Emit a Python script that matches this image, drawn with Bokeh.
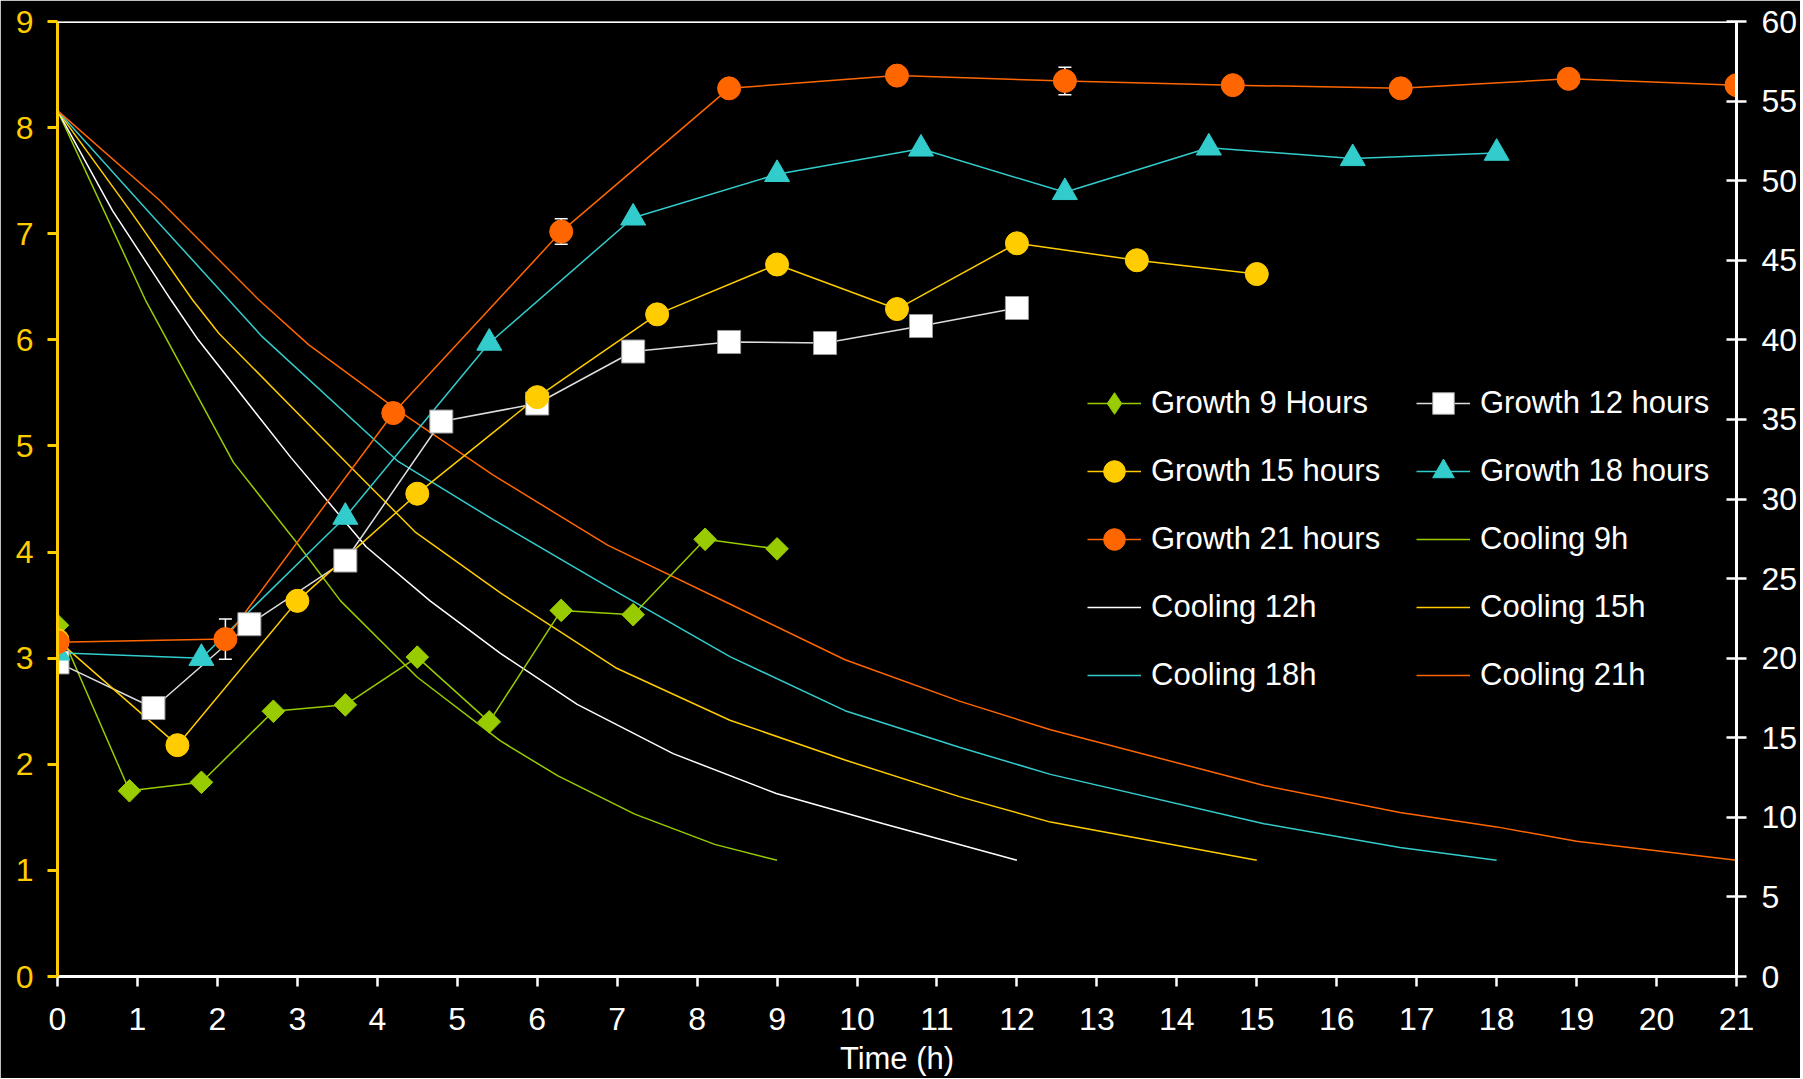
import numpy as np
from bokeh.plotting import figure
from bokeh.models import (ColumnDataSource, Range1d, LinearAxis, Legend, LegendItem,
                          Whisker, TeeHead, Span)
from bokeh.embed import file_html
from bokeh.resources import INLINE

# ---------------- data ----------------
hour_ticks = list(range(0, 22))
left_ticks = list(range(0, 10))
right_ticks = list(range(0, 61, 5))

# Growth (left axis)
g9_t = [0, 0.9, 1.8, 2.7, 3.6, 4.5, 5.4, 6.3, 7.2, 8.1, 9.0]
g9_v = [3.31, 1.75, 1.83, 2.50, 2.56, 3.01, 2.40, 3.45, 3.41, 4.12, 4.03]
g12_t = [0, 1.2, 2.4, 3.6, 4.8, 6.0, 7.2, 8.4, 9.6, 10.8, 12.0]
g12_v = [2.96, 2.53, 3.32, 3.92, 5.23, 5.40, 5.89, 5.98, 5.97, 6.13, 6.30]
g15_t = [0, 1.5, 3.0, 4.5, 6.0, 7.5, 9.0, 10.5, 12.0, 13.5, 15.0]
g15_v = [3.17, 2.18, 3.54, 4.55, 5.46, 6.24, 6.71, 6.29, 6.91, 6.75, 6.62]
g18_t = [0, 1.8, 3.6, 5.4, 7.2, 9.0, 10.8, 12.6, 14.4, 16.2, 18.0]
g18_v = [3.05, 3.00, 4.33, 5.97, 7.15, 7.56, 7.80, 7.39, 7.81, 7.71, 7.76]
g21_t = [0, 2.1, 4.2, 6.3, 8.4, 10.5, 12.6, 14.7, 16.8, 18.9, 21.0]
g21_v = [3.15, 3.18, 5.31, 7.02, 8.37, 8.49, 8.44, 8.40, 8.37, 8.46, 8.40]
g21_err = [0, 0.19, 0, 0.12, 0, 0, 0.13, 0, 0, 0, 0]

# Cooling (right axis, temperature)
c9_t = [0, 1.1, 2.2, 3.0, 3.54, 4.5, 5.54, 6.26, 7.22, 8.22, 9.0]
c9_v = [54.4, 42.5, 32.3, 27.2, 23.6, 18.8, 14.8, 12.6, 10.2, 8.3, 7.3]
c12_t = [0, 0.69, 1.42, 1.76, 2.92, 3.86, 4.66, 5.54, 6.5, 7.7, 8.99, 10.33, 12.0]
c12_v = [54.4, 48.1, 42.5, 40.0, 32.6, 27.0, 23.6, 20.3, 17.1, 14.0, 11.5, 9.6, 7.3]
c15_t = [0, 0.91, 1.69, 2.02, 3.67, 4.48, 5.54, 6.98, 8.41, 9.85, 11.28, 12.42, 15.0]
c15_v = [54.4, 48.1, 42.5, 40.4, 32.0, 27.9, 24.1, 19.4, 16.1, 13.6, 11.3, 9.7, 7.3]
c18_t = [0, 1.13, 2.56, 4.25, 5.45, 6.88, 8.41, 9.85, 11.28, 12.42, 15.09, 16.79, 18.0]
c18_v = [54.4, 48.1, 40.2, 32.4, 28.7, 24.5, 20.1, 16.7, 14.4, 12.7, 9.6, 8.1, 7.3]
c21_t = [0, 1.27, 2.52, 3.14, 4.25, 5.45, 6.88, 8.41, 9.85, 11.28, 12.42, 15.09, 16.79, 18.0, 19.0, 20.0, 21.0]
c21_v = [54.4, 48.8, 42.5, 39.7, 35.6, 31.5, 27.1, 23.4, 19.9, 17.3, 15.5, 12.0, 10.3, 9.4, 8.5, 7.9, 7.3]

FONT = "Liberation Sans"
GREEN, WHITE, YELLOW, TEAL, ORANGE = "#99CC00", "#FFFFFF", "#FFCC00", "#33CCCC", "#FF6600"

p = figure(width=1800, height=1078, x_range=Range1d(0, 21), y_range=Range1d(0, 9),
           output_backend="svg", toolbar_location=None, title=None,
           background_fill_color="black", border_fill_color="black",
           min_border_left=57, min_border_right=63, min_border_top=21, min_border_bottom=102)
p.outline_line_color = None
p.grid.visible = False
p.extra_y_ranges = {"temp": Range1d(0, 60)}

# x axis
xa = p.xaxis[0]
xa.ticker = hour_ticks
xa.axis_line_color = WHITE
xa.axis_line_width = 3
xa.major_tick_line_color = WHITE
xa.major_tick_line_width = 2.5
xa.major_tick_out = 10
xa.major_tick_in = 0
xa.minor_tick_line_color = None
xa.major_label_text_color = WHITE
xa.major_label_text_font = FONT
xa.major_label_text_font_size = "32px"
xa.major_label_standoff = 21
xa.axis_label = "Time (h)"
xa.axis_label_text_color = WHITE
xa.axis_label_text_font = FONT
xa.axis_label_text_font_size = "31px"
xa.axis_label_text_font_style = "normal"
xa.axis_label_standoff = 8

# left axis
ya = p.yaxis[0]
ya.ticker = left_ticks
ya.axis_line_color = YELLOW
ya.axis_line_width = 3
ya.major_tick_line_color = YELLOW
ya.major_tick_line_width = 3
ya.major_tick_out = 10
ya.major_tick_in = 0
ya.minor_tick_line_color = None
ya.major_label_text_color = YELLOW
ya.major_label_text_font = FONT
ya.major_label_text_font_size = "32px"
ya.major_label_standoff = 14

# right axis
ra = LinearAxis(y_range_name="temp", ticker=right_ticks)
ra.axis_line_color = WHITE
ra.axis_line_width = 3
ra.major_tick_line_color = WHITE
ra.major_tick_line_width = 2.5
ra.major_tick_out = 10
ra.major_tick_in = 10
ra.minor_tick_line_color = None
ra.major_label_text_color = WHITE
ra.major_label_text_font = FONT
ra.major_label_text_font_size = "32px"
ra.major_label_standoff = 15
p.add_layout(ra, "right")

p.add_layout(Span(location=9, dimension="width", line_color=WHITE, line_width=3))

# error bars (beneath markers)
err_x = [t for t, e in zip(g21_t, g21_err) if e > 0]
err_up = [v + e for v, e in zip(g21_v, g21_err) if e > 0]
err_lo = [v - e for v, e in zip(g21_v, g21_err) if e > 0]
err_src = ColumnDataSource(dict(x=err_x, upper=err_up, lower=err_lo))
wh = Whisker(source=err_src, base="x", upper="upper", lower="lower", dimension="height",
             line_color=WHITE, line_width=1.5, level="underlay",
             upper_head=TeeHead(size=13, line_color=WHITE, line_width=1.5),
             lower_head=TeeHead(size=13, line_color=WHITE, line_width=1.5))
p.add_layout(wh)

# cooling curves
cool = {}
for name, t, v, col in [("Cooling 9h", c9_t, c9_v, GREEN), ("Cooling 12h", c12_t, c12_v, WHITE),
                        ("Cooling 15h", c15_t, c15_v, YELLOW), ("Cooling 18h", c18_t, c18_v, TEAL),
                        ("Cooling 21h", c21_t, c21_v, ORANGE)]:
    cool[name] = p.line(t, v, line_color=col, line_width=1.5, y_range_name="temp")

# growth curves
growth = {}
specs = [
    ("Growth 9 Hours", g9_t, g9_v, GREEN, dict(marker="square", size=16, angle=np.pi / 4,
                                                fill_color=GREEN, line_color=GREEN)),
    ("Growth 12 hours", g12_t, g12_v, "#DDDDDD", dict(marker="square", size=23,
                                                      fill_color=WHITE, line_color="#999999", line_width=1)),
    ("Growth 15 hours", g15_t, g15_v, YELLOW, dict(marker="circle", size=23,
                                                   fill_color=YELLOW, line_color=YELLOW)),
    ("Growth 18 hours", g18_t, g18_v, TEAL, dict(marker="triangle", size=25,
                                                 fill_color=TEAL, line_color=TEAL)),
    ("Growth 21 hours", g21_t, g21_v, ORANGE, dict(marker="circle", size=23,
                                                   fill_color=ORANGE, line_color=ORANGE)),
]
for name, t, v, col, mk in specs:
    ln = p.line(t, v, line_color=col, line_width=1.5)
    growth[name] = [ln]
for name, t, v, col, mk in specs:
    sc = p.scatter(t, v, **mk)
    if name == "Growth 9 Hours":
        # legend-only diamond (rotated squares are not rotated in legends)
        dm = p.scatter(t, v, marker="diamond", size=20, fill_color=GREEN, line_color=GREEN,
                       visible=False)
        growth[name].append(dm)
    else:
        growth[name].append(sc)

col1 = [("Growth 9 Hours", growth["Growth 9 Hours"]),
        ("Growth 15 hours", growth["Growth 15 hours"]),
        ("Growth 21 hours", growth["Growth 21 hours"]),
        ("Cooling 12h", [cool["Cooling 12h"]]),
        ("Cooling 18h", [cool["Cooling 18h"]])]
col2 = [("Growth 12 hours", growth["Growth 12 hours"]),
        ("Growth 18 hours", growth["Growth 18 hours"]),
        ("Cooling 9h", [cool["Cooling 9h"]]),
        ("Cooling 15h", [cool["Cooling 15h"]]),
        ("Cooling 21h", [cool["Cooling 21h"]])]

for items, xloc in [(col1, 1030), (col2, 1359)]:
    leg = Legend(items=[LegendItem(label=l, renderers=r) for l, r in items],
                 location=(xloc, 274), orientation="vertical",
                 glyph_width=54, glyph_height=54, label_height=54, spacing=14,
                 label_standoff=10, padding=0, margin=0,
                 label_text_color=WHITE, label_text_font=FONT, label_text_font_size="31px",
                 border_line_color=None, background_fill_alpha=0,
                 inactive_fill_alpha=0)
    p.add_layout(leg)

open("out.html", "w").write(file_html(p, INLINE))
